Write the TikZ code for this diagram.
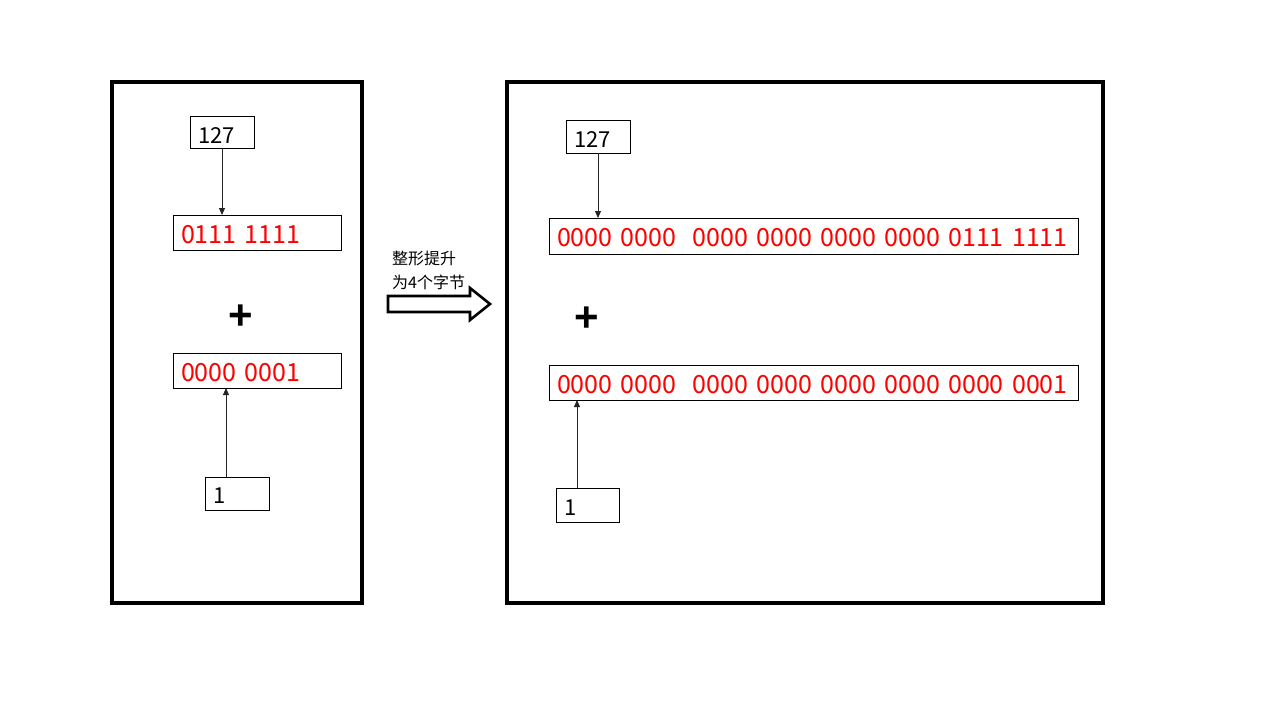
\documentclass[tikz,border=0pt]{standalone}
\usepackage{fontspec}
\setmainfont{Noto Sans CJK SC}
\newfontfamily\plusfont{Liberation Sans}
\usetikzlibrary{arrows.meta}
\tikzset{
  frame/.style={draw, line width=3.2pt, rectangle, anchor=north west, inner sep=0pt, outer sep=0pt},
  numbox/.style={draw, line width=0.8pt, rectangle, anchor=north west, inner xsep=8pt, inner ysep=0pt, outer sep=0pt, align=left, text height=22pt, text depth=0pt, font=\fontsize{22}{24}\selectfont},
  onebox/.style={numbox, text height=20pt},
  bitbox/.style={numbox, text=red, text height=21pt, font=\fontsize{25}{27}\selectfont},
  conn/.style={-{Triangle[length=7pt,width=6pt]}, line width=0.9pt, draw=black!85},
  plus/.style={font=\plusfont\bfseries\fontsize{42}{44}\selectfont, inner sep=0pt},
  bigarrow/.style={draw, line width=2.6pt, fill=white, line join=miter},
  note/.style={font=\fontsize{16}{24}\selectfont, align=left, anchor=west, inner sep=0pt}
}
\begin{document}
\begin{tikzpicture}[x=1pt,y=-1pt]
\useasboundingbox[fill=white] (0,0) rectangle (1280,720);

% frames
\node[frame, minimum width=250, minimum height=521] (lframe) at (112,82) {};
\node[frame, minimum width=596, minimum height=521] (rframe) at (507,82) {};

% left side
\node[numbox, minimum height=32, text width=64-16] (l127) at (190,116) {127};
\node[bitbox, minimum height=35, text width=168-16] (lb1) at (173,215) {0111 1111};
\node[plus] (lplus) at (241,317) {+};
\node[bitbox, minimum height=35, text width=168-16] (lb2) at (173,353) {0000 0001};
\node[onebox, minimum height=33, text width=64-16] (l1) at (205,477) {1};

\draw[conn] (l127.south) -- (l127.south |- lb1.north);
\draw[conn] ([xshift=21pt]l1.north west) -- ([xshift=21pt]l1.north west |- lb2.south);

% arrow between
\node[note] (lbl) at (392,270) {整形提升\\为4个字节};
\draw[bigarrow] (388,296) -- (470,296) -- (470,288) -- (490,304) -- (470,320) -- (470,312) -- (388,312) -- cycle;

% right side
\node[numbox, minimum height=33, text width=64-16] (r127) at (566,120) {127};
\node[bitbox, minimum height=36, text width=529-16] (rb1) at (549,218) {0000 0000\ \ 0000 0000 0000 0000 0111 1111};
\node[plus] (rplus) at (587,319) {+};
\node[bitbox, minimum height=35, text width=529-16] (rb2) at (549,365) {0000 0000\ \ 0000 0000 0000 0000 0000 0001};
\node[onebox, minimum height=34, text width=63-16] (r1) at (556,488) {1};

\draw[conn] (r127.south) -- (r127.south |- rb1.north);
\draw[conn] ([xshift=21pt]r1.north west) -- ([xshift=21pt]r1.north west |- rb2.south);
\end{tikzpicture}
\end{document}
